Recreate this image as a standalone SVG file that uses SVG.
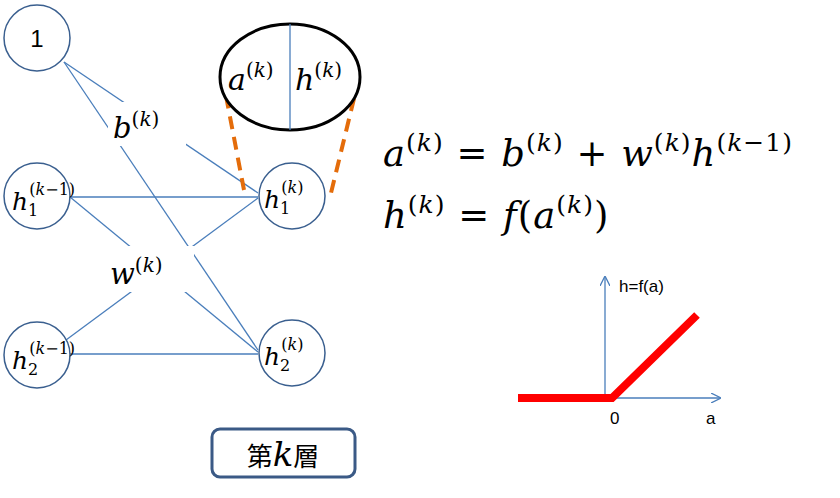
<svg xmlns="http://www.w3.org/2000/svg" width="840" height="498" viewBox="0 0 840 498">
<style>
.n{fill:#fff;stroke:#3a5f8f;stroke-width:1.5}
.c line{stroke:#4a7ebb;stroke-width:1.3}
.m{font-family:"DejaVu Serif","Liberation Serif",serif;font-style:italic;fill:#000}
.s{font-family:"Liberation Sans",Arial,sans-serif;fill:#000}
</style>
<defs><marker id="ar" viewBox="0 0 10 10" refX="9" refY="5" markerWidth="10" markerHeight="10" orient="auto" markerUnits="userSpaceOnUse"><path d="M0,0 L10,5 L0,10" fill="none" stroke="#4a7ebb" stroke-width="1.3"/></marker></defs>
<g id="connectors" class="c">
<line x1="64" y1="62" x2="258" y2="193"/>
<line x1="64" y1="62" x2="258" y2="350"/>
<line x1="70" y1="197" x2="258" y2="197"/>
<line x1="70" y1="197" x2="258" y2="352"/>
<line x1="70" y1="354" x2="258" y2="354"/>
<line x1="66" y1="340" x2="258" y2="198"/>
<line x1="222" y1="75" x2="244" y2="190" style="stroke:#e46c0a;stroke-width:4;stroke-dasharray:13 8"/>
<line x1="359" y1="78" x2="331" y2="193" style="stroke:#e46c0a;stroke-width:4;stroke-dasharray:13 8"/>
</g>
<rect x="108" y="102" width="78" height="44" fill="#fff"/>
<text class="m" x="113" y="138" font-size="29">b<tspan font-size="20" dy="-12" font-style="normal">(</tspan><tspan font-size="20">k</tspan><tspan font-size="20" font-style="normal">)</tspan></text>
<rect x="106" y="246" width="88" height="46" fill="#fff"/>
<text class="m" x="110" y="284" font-size="29">w<tspan font-size="20" dy="-12" font-style="normal">(</tspan><tspan font-size="20">k</tspan><tspan font-size="20" font-style="normal">)</tspan></text>
<g id="n1"><circle class="n" cx="37" cy="38" r="33"/><text class="s" x="37" y="47" font-size="24" text-anchor="middle">1</text></g>
<g id="h1prev"><circle class="n" cx="37" cy="196" r="33"/><text class="m" x="12" y="210" font-size="25">h<tspan font-size="16" font-style="normal" dy="6">1</tspan><tspan font-size="16" dx="-9" dy="-21" font-style="normal">(</tspan><tspan font-size="16">k</tspan><tspan font-size="16" font-style="normal">−1)</tspan></text></g>
<g id="h2prev"><circle class="n" cx="37" cy="355" r="33"/><text class="m" x="12" y="369" font-size="25">h<tspan font-size="16" font-style="normal" dy="6">2</tspan><tspan font-size="16" dx="-9" dy="-21" font-style="normal">(</tspan><tspan font-size="16">k</tspan><tspan font-size="16" font-style="normal">−1)</tspan></text></g>
<g id="h1k"><circle class="n" cx="292" cy="196" r="33"/><text class="m" x="264" y="208" font-size="25">h<tspan font-size="16" font-style="normal" dy="6">1</tspan><tspan font-size="16" dx="-9" dy="-21" font-style="normal">(</tspan><tspan font-size="16">k</tspan><tspan font-size="16" font-style="normal">)</tspan></text></g>
<g id="h2k"><circle class="n" cx="292" cy="353" r="33"/><text class="m" x="264" y="365" font-size="25">h<tspan font-size="16" font-style="normal" dy="6">2</tspan><tspan font-size="16" dx="-9" dy="-21" font-style="normal">(</tspan><tspan font-size="16">k</tspan><tspan font-size="16" font-style="normal">)</tspan></text></g>
<g id="neuron"><ellipse cx="290" cy="77" rx="70" ry="53" fill="#fff" stroke="#000" stroke-width="3"/><line x1="290" y1="24" x2="290" y2="130" stroke="#4a7ebb" stroke-width="1.3"/>
<text class="m" x="228" y="90" font-size="30">a<tspan font-size="20" dy="-13" font-style="normal">(</tspan><tspan font-size="20">k</tspan><tspan font-size="20" font-style="normal">)</tspan></text>
<text class="m" x="295" y="90" font-size="30">h<tspan font-size="20" dy="-13" font-style="normal">(</tspan><tspan font-size="20">k</tspan><tspan font-size="20" font-style="normal">)</tspan></text></g>
<g id="eq"><text class="m" x="383" y="166" font-size="37" letter-spacing="1">a<tspan font-size="25" dy="-15" font-style="normal">(</tspan><tspan font-size="25">k</tspan><tspan font-size="25" font-style="normal">)</tspan><tspan dy="15" font-style="normal"> = </tspan>b<tspan font-size="25" dy="-15" font-style="normal">(</tspan><tspan font-size="25">k</tspan><tspan font-size="25" font-style="normal">)</tspan><tspan dy="15" font-style="normal"> + </tspan>w<tspan font-size="25" dy="-15" font-style="normal">(</tspan><tspan font-size="25">k</tspan><tspan font-size="25" font-style="normal">)</tspan><tspan dy="15">h</tspan><tspan font-size="25" dy="-15" font-style="normal">(</tspan><tspan font-size="25">k</tspan><tspan font-size="25" font-style="normal">−1)</tspan></text>
<text class="m" x="383" y="228" font-size="37" letter-spacing="1">h<tspan font-size="25" dy="-15" font-style="normal">(</tspan><tspan font-size="25">k</tspan><tspan font-size="25" font-style="normal">)</tspan><tspan dy="15" font-style="normal"> = </tspan>f<tspan font-style="normal">(</tspan>a<tspan font-size="25" dy="-15" font-style="normal">(</tspan><tspan font-size="25">k</tspan><tspan font-size="25" font-style="normal">)</tspan><tspan dy="15" font-style="normal">)</tspan></text></g>
<g id="plot">
<line x1="605" y1="398" x2="605" y2="277" stroke="#4a7ebb" stroke-width="1.3" marker-end="url(#ar)"/>
<line x1="518" y1="398" x2="720" y2="398" stroke="#4a7ebb" stroke-width="1.3" marker-end="url(#ar)"/>
<polyline points="518,398 612,398 697,315" fill="none" stroke="#ff0000" stroke-width="8"/>
<text class="s" x="619" y="292" font-size="17">h=f(a)</text>
<text class="s" x="610" y="424" font-size="17">0</text>
<text class="s" x="706" y="424" font-size="17">a</text></g>
<g id="layer"><rect x="212" y="429" width="143" height="48" rx="8" fill="#fff" stroke="#3b5a86" stroke-width="3"/>
<text x="283" y="466" font-size="26" text-anchor="middle" font-family="'Noto Sans CJK JP',sans-serif">第<tspan class="m" font-size="34">k</tspan>層</text></g>
</svg>
